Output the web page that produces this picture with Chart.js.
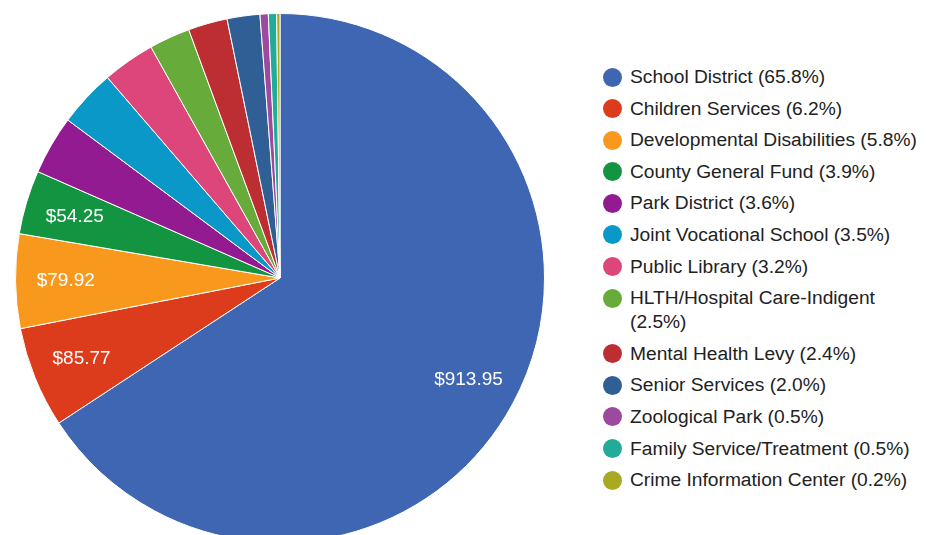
<!DOCTYPE html>
<html>
<head>
<meta charset="utf-8">
<script src="https://cdn.jsdelivr.net/npm/chart.js@4"></script>
<style>
  html, body { margin: 0; padding: 0; background: #fff; overflow: hidden; }
  #page { position: relative; width: 932px; height: 535px; overflow: hidden; }
  #pie-box { position: absolute; left: 0; top: 0; width: 560px; height: 560px; }
  #legend {
    position: absolute; left: 603px; top: 65px; margin: 0; padding: 0; list-style: none;
    font-family: Arial, "Liberation Sans", sans-serif; font-size: 19.2px; color: #222;
  }
  #legend li { display: flex; align-items: flex-start; line-height: 24px; margin-bottom: 7.6px; }
  #legend .dot { flex: none; width: 19px; height: 19px; border-radius: 50%; margin: 2.5px 8px 0 0; }
  #legend .txt { width: 294px; }
</style>
</head>
<body>
<div id="page">
  <div id="pie-box"><canvas id="pie" width="560" height="560"></canvas></div>
  <ul id="legend"></ul>
</div>
<script>
const categories = [
  "School District", "Children Services", "Developmental Disabilities", "County General Fund",
  "Park District", "Joint Vocational School", "Public Library", "HLTH/Hospital Care-Indigent",
  "Mental Health Levy", "Senior Services", "Zoological Park", "Family Service/Treatment",
  "Crime Information Center"
];
const amounts = [913.95, 85.77, 79.92, 54.25, 50.0, 48.7, 44.5, 34.8, 33.3, 27.8, 7.0, 7.0, 2.8];
const shares = ["65.8", "6.2", "5.8", "3.9", "3.6", "3.5", "3.2", "2.5", "2.4", "2.0", "0.5", "0.5", "0.2"];
const colors = [
  "#3e66b2", "#dc3b1c", "#f8981d", "#139440", "#931b91", "#0a98c8", "#dd467a",
  "#67ac3a", "#bd2e33", "#2f5f94", "#9c4a9f", "#22ab99", "#aaaa22"
];

// dollar labels inside the big slices, like the google chart
const sliceLabels = {
  id: "sliceLabels",
  afterDatasetsDraw(chart) {
    const c = chart.ctx;
    const arcs = chart.getDatasetMeta(0).data;
    c.save();
    c.font = "19px Arial, 'Liberation Sans', sans-serif";
    c.fillStyle = "#fff";
    c.textAlign = "center";
    c.textBaseline = "middle";
    arcs.forEach((arc, i) => {
      if (parseFloat(shares[i]) < 3.8) return;
      const p = arc.getProps(["x", "y", "startAngle", "endAngle", "outerRadius"], true);
      const mid = (p.startAngle + p.endAngle) / 2;
      const r = p.outerRadius * 0.81;
      c.fillText("$" + amounts[i].toFixed(2), p.x + Math.cos(mid) * r, p.y + Math.sin(mid) * r);
    });
    c.restore();
  }
};

const pieChart = new Chart(document.getElementById("pie").getContext("2d"), {
  type: "pie",
  data: {
    labels: categories,
    datasets: [{
      data: amounts,
      backgroundColor: colors,
      borderColor: "#fff",
      borderWidth: 1
    }]
  },
  options: {
    responsive: false,
    animation: false,
    layout: { padding: { left: 15, right: 15, top: 13, bottom: 17 } },
    plugins: {
      legend: { display: false },
      tooltip: { enabled: false }
    }
  },
  plugins: [sliceLabels]
});

const legendEl = document.getElementById("legend");
categories.forEach((name, i) => {
  const li = document.createElement("li");
  const dot = document.createElement("span");
  dot.className = "dot";
  dot.style.background = colors[i];
  const txt = document.createElement("span");
  txt.className = "txt";
  txt.textContent = name + " (" + shares[i] + "%)";
  li.appendChild(dot);
  li.appendChild(txt);
  legendEl.appendChild(li);
});
</script>
</body>
</html>
